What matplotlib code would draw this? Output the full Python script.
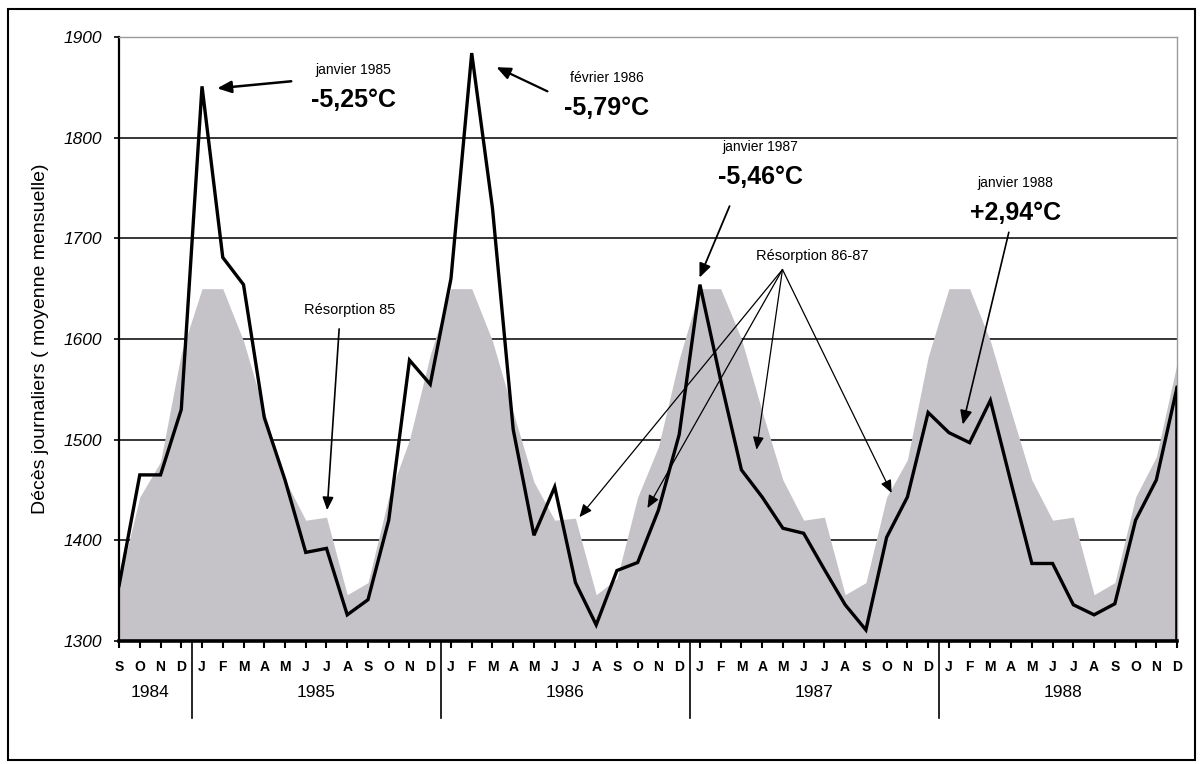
"""Décès journaliers (moyenne mensuelle), sept. 1984 - déc. 1988,
avec la courbe saisonnière attendue en gris. Sortie : out.png (1200x764)."""
import numpy as np
import matplotlib
matplotlib.use("Agg")
import matplotlib.pyplot as plt
from matplotlib.patches import Rectangle
from matplotlib.transforms import blended_transform_factory

plt.rcParams.update({"font.family": ["Liberation Sans", "DejaVu Sans"]})

# ---------------------------------------------------------------- data
MONTHS = ["S", "O", "N", "D"] + ["J", "F", "M", "A", "M", "J",
                                 "J", "A", "S", "O", "N", "D"] * 4
YEARS = ["1984", "1985", "1986", "1987", "1988"]
YEAR_FIRST = [0, 4, 16, 28, 40]    # index of first month shown for each year
YEAR_LAST = [3, 15, 27, 39, 51]

# observed daily deaths, monthly mean (black line)
deaths = [1355, 1465, 1465, 1530,
          1851, 1681, 1654, 1522, 1460, 1388, 1392, 1326, 1341, 1420, 1579, 1555,
          1660, 1884, 1730, 1510, 1405, 1453, 1358, 1316, 1370, 1378, 1430, 1505,
          1654, 1559, 1470, 1443, 1412, 1407, 1371, 1336, 1311, 1403, 1443, 1527,
          1507, 1497, 1539, 1457, 1377, 1377, 1336, 1326, 1337, 1420, 1460, 1552]

# expected seasonal level (grey area)
expected = [1358, 1443, 1478, 1586,
            1650, 1650, 1598, 1528, 1460, 1420, 1423, 1346, 1358, 1443, 1500, 1584,
            1650, 1650, 1598, 1527, 1458, 1420, 1422, 1346, 1362, 1443, 1493, 1580,
            1650, 1650, 1600, 1528, 1460, 1420, 1423, 1346, 1358, 1443, 1480, 1582,
            1650, 1650, 1598, 1528, 1460, 1420, 1423, 1346, 1358, 1443, 1483, 1576]

YMIN, YMAX = 1300, 1900
GREY = "#c5c3c8"

x = np.arange(len(deaths))

# ---------------------------------------------------------------- figure
fig = plt.figure(figsize=(12, 7.64), dpi=100)
fig.patches.append(Rectangle((0.0067, 0.0052), 0.989, 0.983, transform=fig.transFigure,
                             fill=False, lw=1.5, ec="black"))
ax = fig.add_axes([0.0992, 0.161, 0.8817, 0.7906])

ax.fill_between(x, YMIN, expected, color=GREY, lw=0, zorder=1)
ax.plot(x, deaths, color="black", lw=2.4, zorder=3, solid_joinstyle="miter")
ax.vlines(x[-1], YMIN, deaths[-1], color="black", lw=2.6, zorder=3)

ax.set_xlim(x[0], x[-1])
ax.set_ylim(YMIN, YMAX)
ax.set_axisbelow(True)
ax.yaxis.grid(True, color="black", lw=1.1)
ax.set_yticks(np.arange(YMIN, YMAX + 1, 100))
ax.tick_params(axis="y", length=3.5, width=1.2, pad=9, labelsize=12.5)
for t in ax.get_yticklabels():
    t.set_fontstyle("italic")

ax.set_xticks(x)
ax.set_xticklabels([])
ax.tick_params(axis="x", length=5, width=1.5)

for s in ("top", "right"):
    ax.spines[s].set_color("#9a9a9a")
    ax.spines[s].set_linewidth(1.0)
ax.spines["left"].set_linewidth(1.6)
ax.spines["bottom"].set_linewidth(2.6)

tr = blended_transform_factory(ax.transData, ax.transAxes)
for i, m in enumerate(MONTHS):
    ax.text(x[i], -0.043, m, transform=tr, ha="center", va="center",
            fontsize=10, fontweight="bold")
for yr, a, b in zip(YEARS, YEAR_FIRST, YEAR_LAST):
    ax.text((x[a] + x[b]) / 2, -0.086, yr, transform=tr, ha="center", va="center",
            fontsize=12.5)
for b in YEAR_LAST[:-1]:
    xs = x[b] + 0.5
    ax.plot([xs, xs], [0, -0.128], transform=tr, color="black", lw=1.2, clip_on=False)

fig.text(0.034, 0.556, "Décès journaliers ( moyenne mensuelle)", rotation=90,
         ha="center", va="center", fontsize=14)

# ---------------------------------------------------------------- annotations
def arrow(tail, head, lw=1.0, ms=11):
    ax.annotate("", xy=head, xytext=tail, annotation_clip=False, zorder=4,
                arrowprops=dict(arrowstyle="-|>,head_length=0.7,head_width=0.3",
                                color="black", lw=lw, mutation_scale=ms,
                                shrinkA=0, shrinkB=0))

def label(xy, small, big):
    ax.text(xy[0], xy[1] + 30, small, ha="center", va="center", fontsize=10, zorder=4)
    ax.text(xy[0], xy[1], big, ha="center", va="center", fontsize=18,
            fontweight="bold", zorder=4)

label((11.3, 1837), "janvier 1985", "-5,25°C")
arrow((8.30, 1856), (4.73, 1849), lw=1.8, ms=12)

label((23.5, 1829), "février 1986", "-5,79°C")
arrow((20.65, 1846), (18.19, 1870), lw=1.6, ms=12)

label((30.9, 1761), "janvier 1987", "-5,46°C")
arrow((29.43, 1732), (27.98, 1661), lw=1.3, ms=12)

label((43.2, 1725), "janvier 1988", "+2,94°C")
arrow((42.89, 1706), (40.67, 1515), lw=1.2, ms=12)

ax.text(11.1, 1629, "Résorption 85", ha="center", va="center", fontsize=10.5, zorder=4)
arrow((10.61, 1610), (10.03, 1430), lw=1.2, ms=11)

ax.text(33.4, 1682, "Résorption 86-87", ha="center", va="center", fontsize=10.5, zorder=4)
for head in [(22.19, 1423), (25.47, 1432), (30.73, 1490), (37.24, 1447)]:
    arrow((31.98, 1669), head, lw=0.9, ms=11)

fig.savefig("out.png", dpi=100)
print("saved out.png")
